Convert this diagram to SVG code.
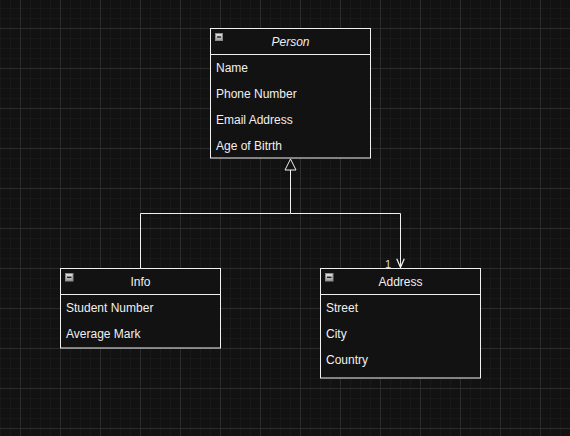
<svg xmlns="http://www.w3.org/2000/svg" width="570" height="436" viewBox="0 0 570 436">
<defs>
<pattern id="minor" width="10" height="10" patternUnits="userSpaceOnUse" x="0" y="8">
<path d="M0.5 0V10M0 0.5H10" fill="none" stroke="#191919" stroke-width="1"/>
</pattern>
<pattern id="major" width="40" height="40" patternUnits="userSpaceOnUse" x="20" y="28">
<path d="M0.5 0V40M0 0.5H40" fill="none" stroke="#2c2c2c" stroke-width="1"/>
</pattern>
<linearGradient id="ig" x1="0" y1="0" x2="0" y2="1">
<stop offset="0" stop-color="#e6e6e6"/>
<stop offset="1" stop-color="#9a9a9a"/>
</linearGradient>
<marker id="tri" markerWidth="14" markerHeight="14" refX="12" refY="7" orient="auto" markerUnits="userSpaceOnUse" viewBox="0 0 14 14" overflow="visible">
<path d="M1 1.5L12 7L1 12.5Z" fill="#121212" stroke="#f0f0f0" stroke-width="1"/>
</marker>
<marker id="open" markerWidth="10" markerHeight="10" refX="7" refY="4" orient="auto" markerUnits="userSpaceOnUse" viewBox="0 0 8 8" overflow="visible">
<path d="M0 1L7 4L0 7" fill="none" stroke="#f0f0f0" stroke-width="1"/>
</marker>
</defs>
<style>
.box{fill:#121212;stroke:#f0f0f0;stroke-width:1}
.sep{stroke:#f0f0f0;stroke-width:1}
.t{font-family:"Liberation Sans",Arial,sans-serif;font-size:12px;fill:#f0f0f0}
.c{text-anchor:middle}
.icon{fill:url(#ig);stroke:#8a8a8a;stroke-width:1}
.minus{stroke:#222;stroke-width:1.4}
.edge{fill:none;stroke:#f0f0f0;stroke-width:1}
</style>
<rect width="570" height="436" fill="#121212"/>
<rect width="570" height="436" fill="url(#minor)"/>
<rect width="570" height="436" fill="url(#major)"/>

<g id="connectors">
<path class="edge" d="M140.5 268V213.5H290.5V159" marker-end="url(#tri)"/>
<path class="edge" d="M290.5 213.5H400.5V267.5" marker-end="url(#open)"/>
<text class="t" x="385" y="268" style="font-size:11px;fill:#dddddd">1</text>
</g>

<g id="person">
<rect class="box" x="210.5" y="28.5" width="160" height="129.5"/>
<line class="sep" x1="210.5" y1="54.5" x2="370.5" y2="54.5"/>
<rect class="icon" x="215.5" y="33.5" width="7" height="7"/>
<line class="minus" x1="217" y1="37" x2="221" y2="37"/>
<text class="t c" x="290.5" y="46" font-style="italic">Person</text>
<text class="t" x="216" y="72">Name</text>
<text class="t" x="216" y="98">Phone Number</text>
<text class="t" x="216" y="124">Email Address</text>
<text class="t" x="216" y="150">Age of Bitrth</text>
</g>

<g id="info">
<rect class="box" x="60.5" y="268.5" width="160" height="79.5"/>
<line class="sep" x1="60.5" y1="294.5" x2="220.5" y2="294.5"/>
<rect class="icon" x="65.5" y="273.5" width="7.5" height="7.5"/>
<line class="minus" x1="67" y1="277.3" x2="71.5" y2="277.3"/>
<text class="t c" x="140.5" y="286">Info</text>
<text class="t" x="66" y="312">Student Number</text>
<text class="t" x="66" y="338">Average Mark</text>
</g>

<g id="address">
<rect class="box" x="320.5" y="268.5" width="160" height="109.5"/>
<line class="sep" x1="320.5" y1="294.5" x2="480.5" y2="294.5"/>
<rect class="icon" x="325.5" y="273.5" width="7.5" height="7.5"/>
<line class="minus" x1="327" y1="277.3" x2="331.5" y2="277.3"/>
<text class="t c" x="400.5" y="286">Address</text>
<text class="t" x="326" y="312">Street</text>
<text class="t" x="326" y="338">City</text>
<text class="t" x="326" y="364">Country</text>
</g>
</svg>
